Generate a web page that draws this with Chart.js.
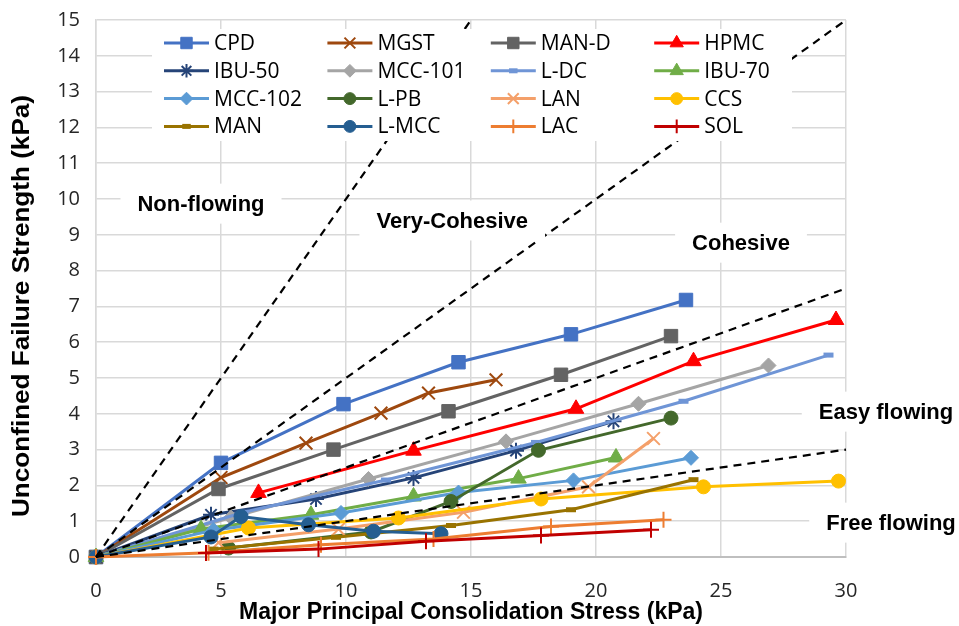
<!DOCTYPE html>
<html><head><meta charset="utf-8">
<script src="https://cdn.jsdelivr.net/npm/chart.js@4/dist/chart.umd.min.js"></script>
<style>html,body{margin:0;padding:0;background:#fff;}#wrap{width:959px;height:626px;position:relative;}</style>
</head><body><div id="wrap"><canvas id="c"></canvas></div>
<script>
// ---- data ----
const seriesNames = ['CPD','MGST','MAN-D','HPMC','IBU-50','MCC-101','L-DC','IBU-70','MCC-102','L-PB','LAN','CCS','MAN','L-MCC','LAC','SOL'];
const cpdX = [0, 5.0, 9.9, 14.5, 19.0, 23.6];
const cpdY = [0, 2.63, 4.27, 5.44, 6.22, 7.18];
const mgstX = [0, 5.0, 8.4, 11.4, 13.3, 16.0];
const mgstY = [0, 2.22, 3.18, 4.02, 4.58, 4.95];
const manDX = [0, 4.9, 9.5, 14.1, 18.6, 23.0];
const manDY = [0, 1.90, 3.0, 4.07, 5.09, 6.17];
const hpmcX = [6.5, 12.7, 19.2, 23.9, 29.6];
const hpmcY = [1.79, 2.97, 4.14, 5.47, 6.62];
const ibu50X = [0, 4.6, 8.8, 12.7, 16.8, 20.7];
const ibu50Y = [0, 1.18, 1.62, 2.21, 2.97, 3.79];
const mcc101X = [0, 5.4, 10.9, 16.4, 21.7, 26.9];
const mcc101Y = [0, 1.1, 2.18, 3.23, 4.28, 5.35];
const ldcX = [0, 5.9, 11.6, 17.6, 23.5, 29.3];
const ldcY = [0, 1.25, 2.15, 3.2, 4.35, 5.64];
const ibu70X = [0, 4.2, 8.6, 12.7, 16.9, 20.8];
const ibu70Y = [0, 0.78, 1.18, 1.69, 2.19, 2.78];
const mcc102X = [0, 4.7, 9.8, 14.5, 19.1, 23.8];
const mcc102Y = [0, 0.75, 1.23, 1.8, 2.14, 2.77];
const lpbX = [5.3, 11.0, 14.2, 17.7, 23.0];
const lpbY = [0.25, 0.7, 1.55, 2.98, 3.88];
const lanX = [4.9, 9.7, 14.7, 19.7, 22.3];
const lanY = [0.4, 0.78, 1.25, 1.96, 3.31];
const ccsX = [0, 6.1, 12.1, 17.8, 24.3, 29.7];
const ccsY = [0, 0.81, 1.09, 1.62, 1.96, 2.12];
const manX = [4.7, 9.6, 14.2, 19.0, 23.9];
const manY = [0.22, 0.55, 0.88, 1.32, 2.16];
const lmccX = [0, 4.6, 5.8, 8.5, 11.1, 13.8];
const lmccY = [0, 0.56, 1.13, 0.9, 0.72, 0.65];
const lacX = [0, 4.5, 9.0, 13.5, 18.2, 22.7];
const lacY = [0, 0.12, 0.34, 0.5, 0.85, 1.04];
const solX = [4.4, 8.9, 13.2, 17.8, 22.2];
const solY = [0.11, 0.22, 0.44, 0.6, 0.76];

// flow-function boundary lines (ffc = 1, 2, 4, 10)
const ffc1X = [0, 15];  const ffc1Y = [0, 15];
const ffc2X = [0, 30];  const ffc2Y = [0, 15];
const ffc4X = [0, 30];  const ffc4Y = [0, 7.5];
const ffc10X = [0, 30]; const ffc10Y = [0, 3];

const xTicks = [0, 5, 10, 15, 20, 25, 30];
const yTicks = [0,1,2,3,4,5,6,7,8,9,10,11,12,13,14,15];
const xTitle = 'Major Principal Consolidation Stress (kPa)';
const yTitle = 'Unconfined Failure Strength (kPa)';
const regionLabels = ['Non-flowing', 'Very-Cohesive', 'Cohesive', 'Easy flowing', 'Free flowing'];
const regionLabelX = [4.2, 14.25, 25.8, 31.6, 31.8];
const regionLabelY = [9.87, 9.4, 8.78, 4.06, 0.96];

// ---- styles ----
const seriesX = [cpdX, mgstX, manDX, hpmcX, ibu50X, mcc101X, ldcX, ibu70X, mcc102X, lpbX, lanX, ccsX, manX, lmccX, lacX, solX];
const seriesY = [cpdY, mgstY, manDY, hpmcY, ibu50Y, mcc101Y, ldcY, ibu70Y, mcc102Y, lpbY, lanY, ccsY, manY, lmccY, lacY, solY];
const colors = ['#4472C4','#9E480E','#636363','#FF0000','#264478','#A5A5A5','#6F95D6','#70AD47','#5B9BD5','#43682B','#F4A06A','#FFC000','#997300','#255E91','#ED7D31','#C00000'];
const pStyles = ['rect','crossRot','rect','triangle','star','rectRot','line','triangle','rectRot','circle','crossRot','circle','line','circle','cross','cross'];
const pRadius = [9.5, 9, 9.5, 9, 8, 7.5, 5, 9, 7.5, 7, 9, 7, 5, 7, 8, 8];
const pBorder = [1, 2, 1, 1, 2, 1, 5, 1, 1, 1, 2, 1, 5, 1, 2, 2];

const toPts = (xs, ys) => xs.map((v, i) => ({x: v, y: ys[i]}));

const datasets = seriesNames.map((n, i) => ({
  label: n,
  data: toPts(seriesX[i], seriesY[i]),
  borderColor: colors[i],
  backgroundColor: colors[i],
  pointBackgroundColor: colors[i],
  pointBorderColor: colors[i],
  borderWidth: 3,
  pointStyle: pStyles[i],
  pointRadius: pRadius[i],
  pointBorderWidth: pBorder[i],
  showLine: true,
  tension: 0,
  order: 100 - i,
  clip: false
}));
[[ffc1X, ffc1Y], [ffc2X, ffc2Y], [ffc4X, ffc4Y], [ffc10X, ffc10Y]].forEach((p, k) => {
  datasets.push({
    label: 'ffc' + k,
    data: toPts(p[0], p[1]),
    borderColor: '#000',
    borderWidth: 2.2,
    borderDash: [8, 6],
    pointRadius: 0,
    showLine: true,
    order: 1,
    clip: false
  });
});

function drawMarker(ctx, style, r, bw, x, y) {
  if (Chart.helpers && Chart.helpers.drawPoint) {
    Chart.helpers.drawPoint(ctx, {pointStyle: style, radius: r, borderWidth: bw, rotation: 0}, x, y);
  } else {
    ctx.beginPath(); ctx.arc(x, y, r, 0, Math.PI * 2); ctx.fill();
  }
}

const overlay = {
  id: 'overlay',
  afterDatasetsDraw(chart) {
    const {ctx, scales: {x, y}} = chart;
    ctx.save();
    // region labels
    ctx.font = 'bold 22px "Liberation Sans", Arial, sans-serif';
    ctx.textAlign = 'center';
    ctx.textBaseline = 'middle';
    regionLabels.forEach((t, i) => {
      const px = x.getPixelForValue(regionLabelX[i]);
      const py = y.getPixelForValue(regionLabelY[i]);
      const w = ctx.measureText(t).width + 34;
      ctx.fillStyle = '#fff';
      ctx.fillRect(px - w / 2, py - 20, w, 40);
      ctx.fillStyle = '#000';
      ctx.fillText(t, px, py + 1);
    });
    // legend
    const lx0 = 164, ly0 = 43, colW = 163.4, rowH = 27.8, lineLen = 45;
    ctx.fillStyle = '#fff';
    ctx.fillRect(lx0 - 12, ly0 - 14, 640, 112);
    ctx.font = '21px "Open Sans", sans-serif';
    ctx.textAlign = 'left';
    seriesNames.forEach((n, i) => {
      const lx = lx0 + (i % 4) * colW;
      const ly = ly0 + Math.floor(i / 4) * rowH;
      ctx.strokeStyle = colors[i];
      ctx.fillStyle = colors[i];
      ctx.setLineDash([]);
      ctx.lineWidth = 3;
      ctx.beginPath(); ctx.moveTo(lx, ly); ctx.lineTo(lx + lineLen, ly); ctx.stroke();
      ctx.lineWidth = pBorder[i];
      drawMarker(ctx, pStyles[i], pRadius[i] * 0.85, pBorder[i], lx + lineLen / 2, ly);
      ctx.fillStyle = '#000';
      ctx.fillText(n, lx + lineLen + 5, ly + 1);
    });
    // y axis title (placed as in the reference, slightly below the axis centre)
    ctx.font = 'bold 24px "Liberation Sans", Arial, sans-serif';
    ctx.textAlign = 'center';
    ctx.textBaseline = 'middle';
    const tw = ctx.measureText(yTitle).width;
    ctx.translate(22, 306);
    ctx.rotate(-Math.PI / 2);
    ctx.scale(Math.min(1.15, 422 / tw), 1);
    ctx.fillText(yTitle, 0, 0);
    ctx.restore();
  }
};

new Chart(document.getElementById('c'), {
  type: 'scatter',
  data: {datasets},
  options: {
    responsive: true,
    maintainAspectRatio: false,
    animation: false,
    layout: {padding: {left: 8, right: 113, top: 20, bottom: 0}},
    plugins: {legend: {display: false}, tooltip: {enabled: false}},
    scales: {
      x: {
        type: 'linear', min: 0, max: 30,
        afterBuildTicks: s => { s.ticks = xTicks.map(v => ({value: v})); },
        ticks: {font: {family: 'Open Sans', size: 20}, color: '#262626', padding: 22},
        grid: {color: '#D9D9D9', lineWidth: 1.5, drawTicks: false},
        border: {color: '#BFBFBF', width: 2},
        title: {display: true, text: xTitle, color: '#000',
          font: {family: 'Liberation Sans', weight: 'bold', size: 23}, padding: {top: 0, bottom: 0}},
        afterFit: s => { s.height = 69; }
      },
      y: {
        type: 'linear', min: 0, max: 15,
        afterBuildTicks: s => { s.ticks = yTicks.map(v => ({value: v})); },
        ticks: {font: {family: 'Open Sans', size: 20}, color: '#262626', padding: 16},
        grid: {color: '#D9D9D9', lineWidth: 1.5, drawTicks: false},
        border: {color: '#D9D9D9', width: 1.5},
        title: {display: false},
        afterFit: s => { s.width = 88; s.paddingTop = 0; s.paddingBottom = 0; }
      }
    }
  },
  plugins: [overlay]
});
</script></body></html>
